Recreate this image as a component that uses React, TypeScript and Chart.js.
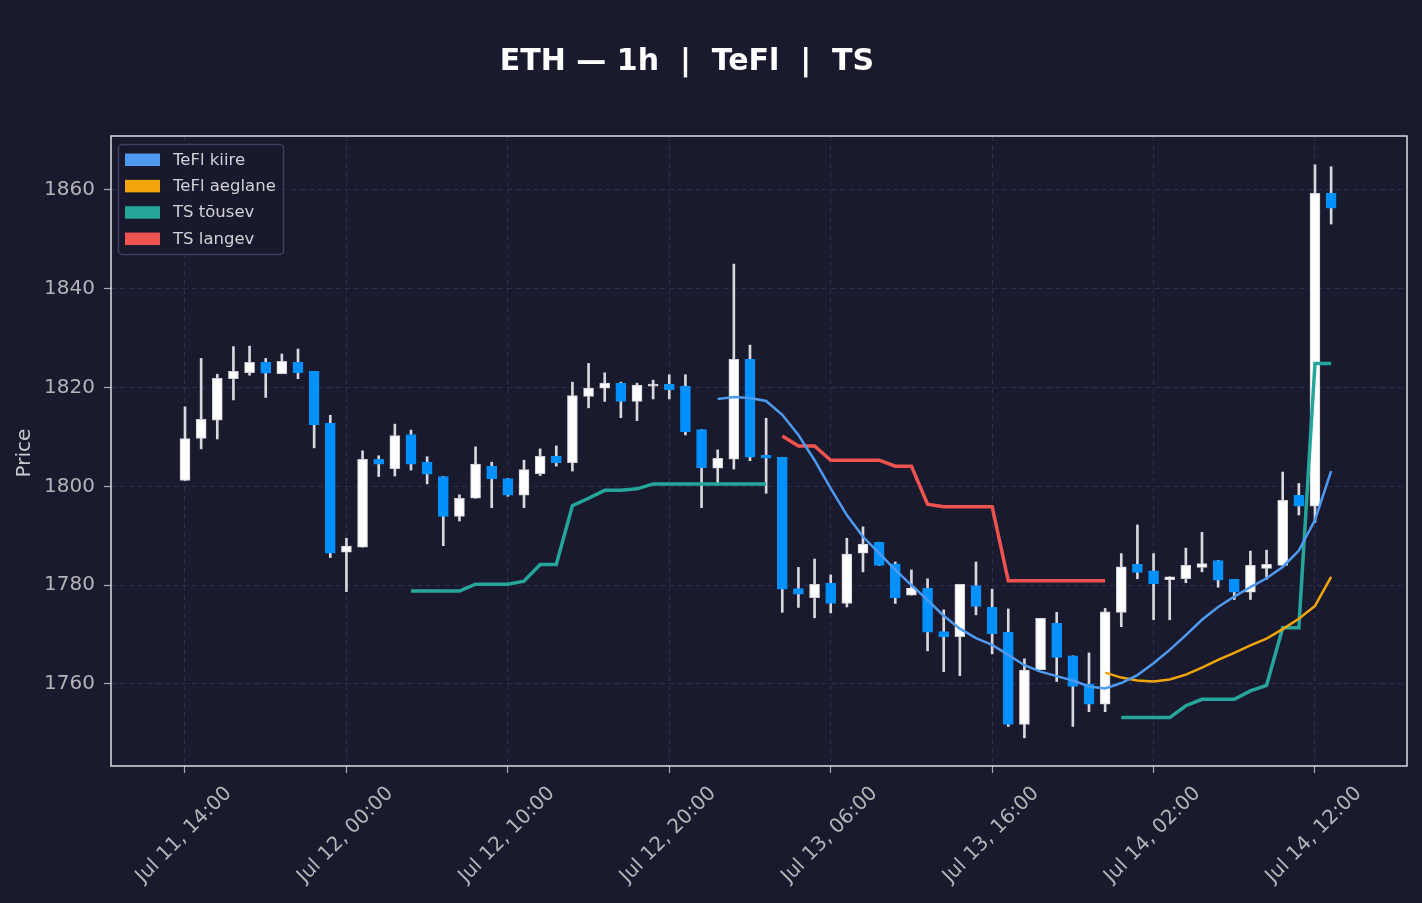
import React, { useEffect, useRef } from 'react';
import { Chart, registerables } from 'chart.js';

Chart.register(...registerables);

// ---- Data (hourly candles, index 0 = Jul 11 14:00) ----
const opens = [
  1801.2, 1809.7, 1813.4, 1821.8, 1823.0, 1825.1, 1822.8, 1825.1, 1823.3, 1812.8,
  1786.7, 1787.7, 1805.5, 1803.6, 1810.5, 1804.9, 1802.0, 1793.9, 1797.6, 1804.1,
  1801.6, 1798.2, 1802.6, 1806.1, 1804.8, 1818.2, 1819.9, 1820.9, 1817.2, 1820.3,
  1820.7, 1820.3, 1811.5, 1803.7, 1805.5, 1825.7, 1806.3, 1805.9, 1779.3, 1777.5,
  1780.4, 1776.3, 1786.5, 1788.7, 1784.3, 1778.0, 1779.4, 1770.6, 1769.6, 1779.9,
  1775.5, 1770.5, 1751.8, 1762.9, 1772.3, 1765.7, 1760.0, 1755.9, 1774.5, 1784.2,
  1782.9, 1781.1, 1781.3, 1783.6, 1785.0, 1781.2, 1778.6, 1783.4, 1784.0, 1798.2,
  1796.0, 1859.3,
];
const highs = [
  1816.1, 1825.9, 1822.7, 1828.3, 1828.4, 1825.9, 1826.8, 1827.8, 1823.3, 1814.4,
  1789.5, 1807.2, 1806.2, 1812.6, 1811.4, 1806.0, 1802.0, 1798.3, 1808.0, 1804.9,
  1801.6, 1805.3, 1807.6, 1808.2, 1821.1, 1824.9, 1823.0, 1821.1, 1820.9, 1821.5,
  1822.6, 1822.6, 1811.5, 1807.4, 1845.0, 1828.6, 1813.8, 1805.9, 1783.6, 1785.3,
  1782.1, 1789.5, 1791.8, 1788.7, 1784.7, 1783.1, 1781.3, 1775.0, 1780.2, 1784.7,
  1779.2, 1775.2, 1765.1, 1773.3, 1774.5, 1765.7, 1766.3, 1775.3, 1786.4, 1792.2,
  1786.4, 1781.7, 1787.5, 1790.7, 1785.0, 1781.2, 1786.9, 1787.1, 1802.9, 1800.6,
  1865.1, 1864.7,
];
const lows = [
  1801.2, 1807.6, 1809.6, 1817.5, 1822.5, 1818.0, 1822.8, 1821.8, 1807.8, 1785.6,
  1778.7, 1787.7, 1802.0, 1802.1, 1803.3, 1800.5, 1788.0, 1793.0, 1797.6, 1795.7,
  1798.0, 1795.7, 1802.2, 1804.1, 1803.1, 1815.9, 1817.2, 1813.9, 1813.3, 1817.7,
  1817.7, 1810.4, 1795.7, 1800.6, 1803.5, 1805.2, 1798.6, 1774.5, 1775.5, 1773.4,
  1774.4, 1775.6, 1782.7, 1784.0, 1776.3, 1778.0, 1766.7, 1762.5, 1761.7, 1774.0,
  1766.1, 1751.4, 1749.1, 1762.9, 1760.5, 1751.4, 1754.4, 1754.4, 1771.6, 1781.3,
  1773.0, 1773.0, 1780.5, 1782.7, 1779.6, 1777.1, 1777.1, 1781.2, 1784.0, 1794.2,
  1792.7, 1853.1,
];
const closes = [
  1809.7, 1813.6, 1821.9, 1823.3, 1825.1, 1822.9, 1825.3, 1823.0, 1812.5, 1786.5,
  1787.9, 1805.5, 1804.5, 1810.3, 1804.5, 1802.5, 1793.9, 1797.6, 1804.5, 1801.5,
  1798.2, 1803.4, 1806.1, 1804.8, 1818.4, 1819.9, 1820.9, 1817.2, 1820.5, 1820.7,
  1819.6, 1811.1, 1803.8, 1805.7, 1825.7, 1805.9, 1805.7, 1779.2, 1778.2, 1780.2,
  1776.3, 1786.3, 1788.3, 1784.0, 1777.5, 1779.4, 1770.5, 1769.6, 1780.2, 1775.7,
  1770.2, 1751.8, 1762.8, 1773.3, 1765.4, 1759.5, 1755.9, 1774.6, 1783.7, 1782.6,
  1780.3, 1781.7, 1784.0, 1784.4, 1781.0, 1778.6, 1784.0, 1784.2, 1797.2, 1796.0,
  1859.3, 1856.3,
];

// ---- Indicator series (start index + values) ----
const kiireStart = 33;
const kiire = [
  1817.7, 1818.1, 1817.9, 1817.3, 1814.5, 1810.4, 1805.3, 1799.6, 1794.2, 1789.8,
  1786.5, 1783.1, 1780.0, 1777.0, 1773.8, 1771.2, 1769.3, 1767.9, 1765.9, 1763.8,
  1762.5, 1761.6, 1760.7, 1759.5, 1759.1, 1760.2, 1761.8, 1764.2, 1766.9, 1769.9,
  1773.0, 1775.6, 1777.7, 1779.6, 1781.4, 1783.7, 1787.0, 1793.2, 1803.1,
];
const aeglaneStart = 57;
const aeglane = [
  1762.3, 1761.3, 1760.7, 1760.5, 1760.9, 1761.9, 1763.3, 1764.9, 1766.3, 1767.8,
  1769.2, 1771.1, 1773.2, 1775.8, 1781.7,
];
const tousevAStart = 14;
const tousevA = [
  1778.8, 1778.8, 1778.8, 1778.8, 1780.2, 1780.2, 1780.2, 1780.8, 1784.2, 1784.2,
  1796.1, 1797.6, 1799.2, 1799.2, 1799.5, 1800.5, 1800.5, 1800.5, 1800.5, 1800.5,
  1800.5, 1800.5, 1800.5,
];
const tousevBStart = 58;
const tousevB = [
  1753.2, 1753.2, 1753.2, 1753.2, 1755.6, 1756.9, 1756.9, 1756.9, 1758.6, 1759.7,
  1771.4, 1771.4, 1824.9, 1824.9,
];
const langevStart = 37;
const langev = [
  1810.2, 1808.2, 1808.2, 1805.3, 1805.3, 1805.3, 1805.3, 1804.1, 1804.1, 1796.4,
  1795.9, 1795.9, 1795.9, 1795.9, 1780.9, 1780.9, 1780.9, 1780.9, 1780.9, 1780.9,
  1780.9,
];

const xTickValues = [0, 10, 20, 30, 40, 50, 60, 70];
const xTickLabels = [
  'Jul 11, 14:00', 'Jul 12, 00:00', 'Jul 12, 10:00', 'Jul 12, 20:00',
  'Jul 13, 06:00', 'Jul 13, 16:00', 'Jul 14, 02:00', 'Jul 14, 12:00',
];
const yTickValues = [1760, 1780, 1800, 1820, 1840, 1860];

const seriesNames = ['TeFl kiire', 'TeFl aeglane', 'TS tõusev', 'TS langev'];
const seriesColors = ['#4e9af1', '#f2a40b', '#26a69a', '#ef5350'];

const TITLE = 'ETH — 1h  |  TeFl  |  TS';
const FONT = '"DejaVu Sans", Verdana, sans-serif';
const BG = '#1a1a2e';

function toPoints(start: number, vals: number[]) {
  return vals.map((v, k) => ({ x: start + k, y: v }));
}

export default function App() {
  const ref = useRef<HTMLCanvasElement>(null);

  useEffect(() => {
    const canvas = ref.current;
    if (!canvas) return;
    const idx = opens.map((_, i) => i);
    const up = idx.map((i) => closes[i] >= opens[i]);
    const bodyData = idx.map((i) => ({ x: i, y: [opens[i], closes[i]] }));
    const wickData = idx.map((i) => ({ x: i, y: [lows[i], highs[i]] }));

    const tousevPts = [
      ...toPoints(tousevAStart, tousevA),
      { x: tousevAStart + tousevA.length, y: null },
      ...toPoints(tousevBStart, tousevB),
    ];

    const deco = {
      id: 'deco',
      beforeDraw(chart: any) {
        const { ctx, width, height } = chart;
        ctx.save();
        ctx.fillStyle = BG;
        ctx.fillRect(0, 0, width, height);
        ctx.restore();
      },
      afterDraw(chart: any) {
        const { ctx, chartArea } = chart;
        const { left, top, right, bottom } = chartArea;
        ctx.save();
        // plot frame
        ctx.strokeStyle = '#dcdce4';
        ctx.lineWidth = 1.5;
        ctx.strokeRect(left, top, right - left, bottom - top);

        // title
        ctx.fillStyle = '#ffffff';
        ctx.font = `bold 30px ${FONT}`;
        ctx.textAlign = 'center';
        ctx.textBaseline = 'middle';
        ctx.fillText(TITLE, 687, 62);

        // y axis title
        ctx.save();
        ctx.translate(25, 453);
        ctx.rotate(-Math.PI / 2);
        ctx.fillStyle = '#c8c8cc';
        ctx.font = `20px ${FONT}`;
        ctx.fillText('Price', 0, 0);
        ctx.restore();

        // x tick labels (rotated, centred)
        const xs = chart.scales.x;
        ctx.fillStyle = '#b4b4b8';
        ctx.font = `20px ${FONT}`;
        xTickValues.forEach((v, k) => {
          const px = xs.getPixelForValue(v);
          ctx.save();
          ctx.translate(px - 1, bottom + 69);
          ctx.rotate(-Math.PI / 4);
          ctx.textAlign = 'center';
          ctx.textBaseline = 'middle';
          ctx.fillText(xTickLabels[k], 0, 0);
          ctx.restore();
        });

        // legend
        const lx = 118.5, ly = 144.5, lw = 165, lh = 110;
        ctx.beginPath();
        if ((ctx as any).roundRect) (ctx as any).roundRect(lx, ly, lw, lh, 4);
        else ctx.rect(lx, ly, lw, lh);
        ctx.fillStyle = 'rgba(26,26,46,0.85)';
        ctx.fill();
        ctx.strokeStyle = '#3d3d5e';
        ctx.lineWidth = 1.5;
        ctx.stroke();
        ctx.font = `16.5px ${FONT}`;
        ctx.textAlign = 'left';
        ctx.textBaseline = 'middle';
        seriesNames.forEach((name, k) => {
          const cy = 159.5 + k * 26.35;
          ctx.fillStyle = seriesColors[k];
          ctx.fillRect(125, cy - 6, 35, 12.5);
          ctx.fillStyle = '#d2d2d6';
          ctx.fillText(name, 173, cy + 1);
        });
        ctx.restore();
      },
    };

    const gridCommon = {
      color: '#2c2c4c',
      lineWidth: 1,
      offset: false,
      drawTicks: true,
      tickLength: 7,
      tickColor: '#a8a8b0',
      tickWidth: 1.2,
      tickBorderDash: [],
    };

    const chart = new Chart(canvas, {
      type: 'bar',
      data: {
        datasets: [
          {
            type: 'line', label: seriesNames[0], data: toPoints(kiireStart, kiire),
            borderColor: seriesColors[0], borderWidth: 2.5, pointRadius: 0, tension: 0, order: 0,
          },
          {
            type: 'line', label: seriesNames[1], data: toPoints(aeglaneStart, aeglane),
            borderColor: seriesColors[1], borderWidth: 2.5, pointRadius: 0, tension: 0, order: 0,
          },
          {
            type: 'line', label: seriesNames[2], data: tousevPts as any,
            borderColor: seriesColors[2], borderWidth: 3.5, pointRadius: 0, tension: 0,
            spanGaps: false, order: 0,
          },
          {
            type: 'line', label: seriesNames[3], data: toPoints(langevStart, langev),
            borderColor: seriesColors[3], borderWidth: 3.5, pointRadius: 0, tension: 0, order: 0,
          },
          {
            type: 'bar', label: 'body', data: bodyData as any,
            backgroundColor: up.map((u) => (u ? '#ffffff' : '#0091ff')),
            borderColor: up.map((u) => (u ? '#cfcfd8' : '#0091ff')),
            borderWidth: 1, borderSkipped: false, barThickness: 10, grouped: false, order: 1,
          },
          {
            type: 'bar', label: 'wick', data: wickData as any,
            backgroundColor: '#d8d8de', borderWidth: 0, barThickness: 2, grouped: false, order: 2,
          },
        ],
      },
      options: {
        responsive: false,
        animation: false,
        events: [],
        layout: { padding: { top: 136, right: 15, bottom: 0, left: 0 } },
        plugins: { legend: { display: false }, title: { display: false }, tooltip: { enabled: false } },
        scales: {
          x: {
            type: 'linear',
            min: -4.584,
            max: 75.7,
            offset: false,
            grid: gridCommon,
            border: { display: false, dash: [5, 4] },
            ticks: { display: false },
            afterBuildTicks: (s: any) => { s.ticks = xTickValues.map((v) => ({ value: v })); },
            afterFit: (s: any) => { s.height = 137; },
          },
          y: {
            type: 'linear',
            min: 1743.4,
            max: 1870.93,
            grid: gridCommon,
            border: { display: false, dash: [5, 4] },
            ticks: {
              color: '#b4b4b8',
              font: { family: FONT, size: 20 },
              padding: 9,
              callback: (v: any) => String(v),
            },
            afterBuildTicks: (s: any) => { s.ticks = yTickValues.map((v) => ({ value: v })); },
            afterFit: (s: any) => { s.width = 111; },
          },
        },
      },
      plugins: [deco],
    } as any);

    return () => chart.destroy();
  }, []);

  return (
    <div style={{ position: 'fixed', left: 0, top: 0, width: 1422, height: 903, background: BG }}>
      <canvas ref={ref} width={1422} height={903} style={{ display: 'block' }} />
    </div>
  );
}
